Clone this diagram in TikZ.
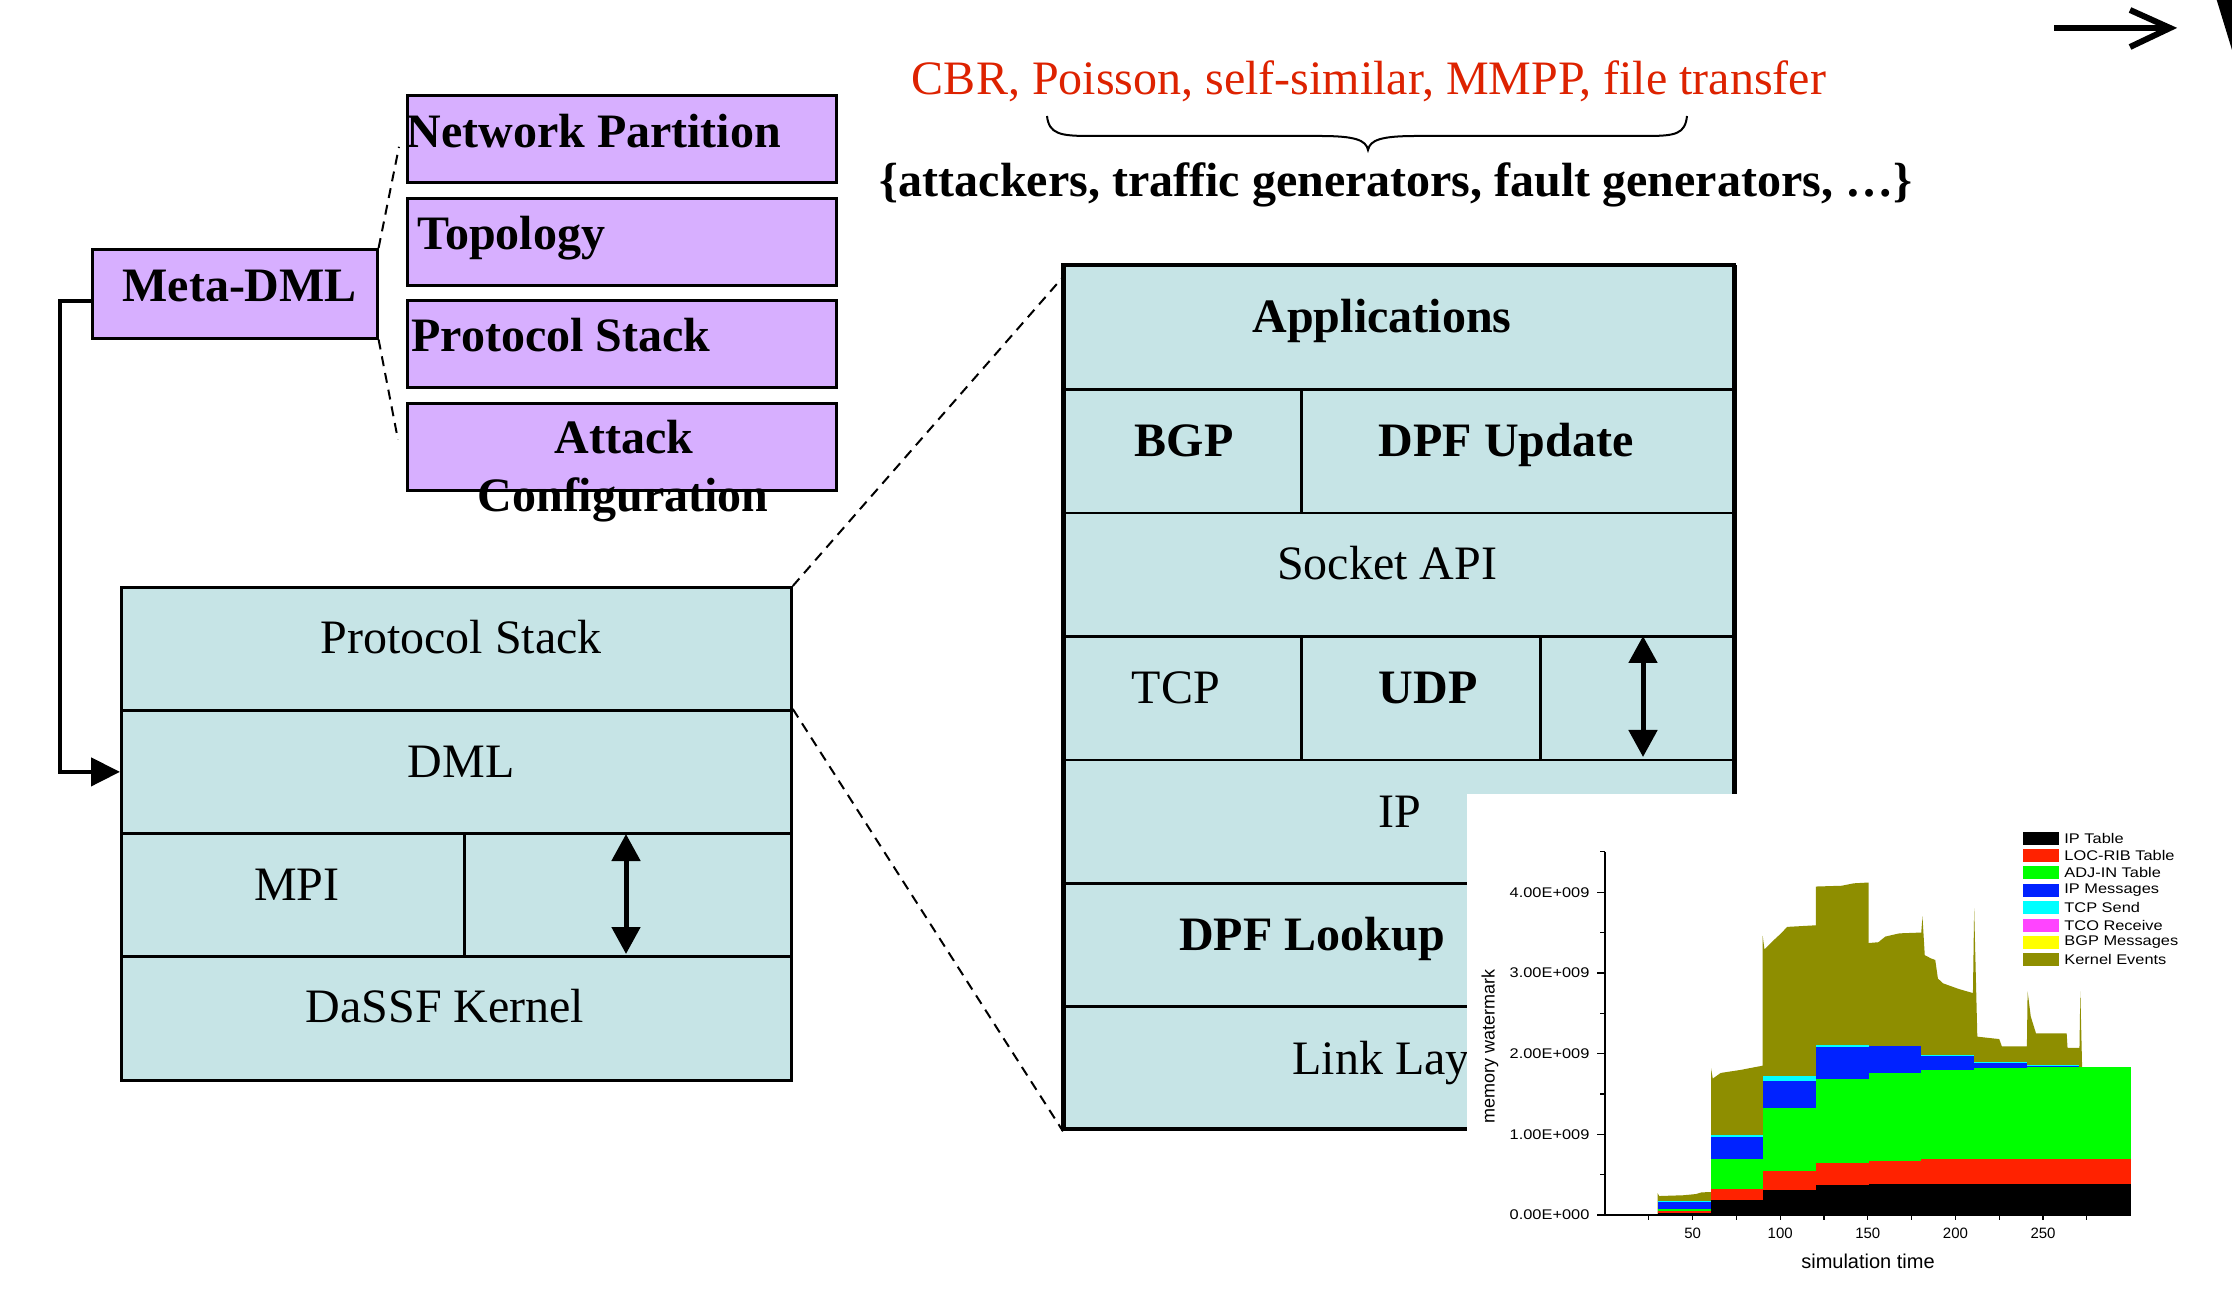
\documentclass[tikz,border=0pt]{standalone}
\usepackage{fontspec}
\setmainfont{Liberation Serif}
\newfontfamily\chartfont{Liberation Sans}
\newfontfamily\chartfontw[FakeStretch=1.17]{Liberation Sans}
\usetikzlibrary{calc,arrows.meta}
\definecolor{lav}{RGB}{215,175,255}
\definecolor{pale}{RGB}{198,228,230}
\definecolor{redtxt}{RGB}{221,34,0}
\definecolor{cRed}{RGB}{255,34,0}
\definecolor{cGreen}{RGB}{0,255,0}
\definecolor{cBlue}{RGB}{0,34,255}
\definecolor{cCyan}{RGB}{0,255,255}
\definecolor{cMag}{RGB}{255,68,255}
\definecolor{cYel}{RGB}{255,255,0}
\definecolor{cOlive}{RGB}{142,142,0}
\begin{document}
\begin{tikzpicture}[x=0.5pt,y=-0.5pt,
  txt/.style={font=\fontsize{24}{28.8}\selectfont, inner sep=0pt, anchor=base},
  txtb/.style={txt, font=\fontsize{24}{28.8}\selectfont\bfseries},
  pbox/.style={draw, line width=1.3pt, fill=lav, anchor=north west, inner sep=0pt, minimum width=214.5pt, minimum height=43.5pt},
  lcell/.style={draw, line width=1.4pt, fill=pale, anchor=north west, inner sep=0pt, minimum height=61.5pt},
  rcell/.style={draw, line width=1.25pt, fill=pale, anchor=north west, inner sep=0pt, minimum height=61.7pt},
  zoomline/.style={dash pattern=on 5pt off 3.5pt, line width=1pt},
  dblarrow/.style={line width=2.5pt, {Triangle[length=13.5pt,width=14pt]}-{Triangle[length=13.5pt,width=14pt]}},
  feed/.style={line width=2.25pt, -{Triangle[length=14.5pt,width=14pt]}},
  chartlbl/.style={font=\chartfont\fontsize{7}{8.4}\selectfont, inner sep=0pt},
  chartlblw/.style={font=\chartfontw\fontsize{7}{8.4}\selectfont, inner sep=0pt},
]
\fill[white] (0,0) rectangle (2232,1293);
\useasboundingbox (0,0) rectangle (2232,1293);

% ---------- top texts ----------
\node[txt, text=redtxt] (gens) at (1369,95) {CBR, Poisson, self-similar, MMPP, file transfer};
\draw[line width=1pt] (1047,116) .. controls (1049,134) and (1060,136) .. (1090,136) -- (1320,136) .. controls (1355,136) and (1366,140) .. (1368,150) .. controls (1370,140) and (1381,136) .. (1416,136) -- (1646,136) .. controls (1676,136) and (1685,134) .. (1687,116);
\node[txtb] (gset) at (1396,197) {\{attackers, traffic generators, fault generators, …\}};

% ---------- top right arrow ----------
\coordinate (ta) at (2054,28);
\coordinate (tb) at (2170,28);
\draw[line width=3pt] (ta) -- (tb);
\draw[line width=3pt] (2130,10) -- (tb) -- (2130,47);
\fill (2216.7,0) -- (2232,0) -- (2232,50) -- cycle;

% ---------- purple boxes ----------
\node[pbox] (np) at (406,94) {};
\node[pbox] (topo) at (406,197) {};
\node[pbox] (pstk) at (406,299) {};
\node[pbox] (atk) at (406,402) {};
\node[pbox, minimum width=142.5pt, minimum height=44.5pt] (meta) at (91,248) {};
\node[txtb, anchor=base west] (npt) at (406,148) {Network Partition};
\node[txtb, anchor=base west] (topot) at (417,250) {Topology};
\node[txtb, anchor=base west] (pstkt) at (411,352) {Protocol Stack};
\node[txtb] (atkt) at (624,454) {Attack};
\node[txtb] (conft) at (623,512) {Configuration};
\node[txtb, anchor=base west] (metat) at (122,302) {Meta-DML};
\draw[zoomline] (meta.north east) -- ($(np.west)+(-7,8)$);
\draw[zoomline] (meta.south east) -- ($(atk.west)+(-8,-7)$);

% ---------- lower-left stack ----------
\node[lcell, minimum width=335pt] (lps) at (120,586) {};
\node[lcell, minimum width=335pt] (ldml) at (120,709) {};
\node[lcell, minimum width=171.5pt] (lmpi) at (120,832) {};
\node[lcell, minimum width=163.5pt] (lgap) at (463,832) {};
\node[lcell, minimum width=335pt, minimum height=62pt] (lker) at (120,955) {};
\node[txt] (lpst) at (461,654) {Protocol Stack};
\node[txt] (ldmlt) at (461,777) {DML};
\node[txt] (lmpit) at (297,900) {MPI};
\node[txt] (lkert) at (445,1022) {DaSSF Kernel};
\coordinate (la1) at (626,834);
\coordinate (la2) at (626,954);
\draw[dblarrow] (la1) -- (la2);
\draw[feed] ($(meta.west)+(0,7)$) -- ++(-31,0) |- (ldml.west);

% ---------- right stack ----------
\node[rcell, minimum width=335.5pt] (app) at (1063,265) {};
\node[rcell, minimum width=118.5pt] (bgp) at (1063,388.4) {};
\node[rcell, minimum width=217pt] (dpfu) at (1300,388.4) {};
\node[rcell, minimum width=335.5pt] (sock) at (1063,511.8) {};
\node[rcell, minimum width=118.5pt] (tcp) at (1063,635.2) {};
\node[rcell, minimum width=119.5pt] (udp) at (1300,635.2) {};
\node[rcell, minimum width=97.5pt] (rgap) at (1539,635.2) {};
\node[rcell, minimum width=335.5pt] (ip) at (1063,758.6) {};
\node[rcell, minimum width=335.5pt] (dpfl) at (1063,882) {};
\node[rcell, minimum width=335.5pt] (link) at (1063,1005.4) {};
\draw[line width=2pt] (1063,265) rectangle (1734,1128.8);
\node[txtb] (appt) at (1382,333) {Applications};
\node[txtb] (bgpt) at (1184,456.5) {BGP};
\node[txtb] (dpfut) at (1506,456.5) {DPF Update};
\node[txt] (sockt) at (1387,580) {Socket API};
\node[txt] (tcpt) at (1176,703.5) {TCP};
\node[txtb] (udpt) at (1428,703.5) {UDP};
\node[txt] (ipt) at (1400,827) {IP};
\node[txtb] (dpflt) at (1312,950) {DPF Lookup};
\node[txt, anchor=base west] (linkt) at (1292,1074) {Link Layer};
\coordinate (ra1) at (1643,636);
\coordinate (ra2) at (1643,757);
\draw[dblarrow] (ra1) -- (ra2);

\draw[zoomline] (lps.north east) -- ($(app.north west)+(0,12)$);
\draw[zoomline] (ldml.north east) -- (link.south west);

% ---------- chart ----------
\fill[white] (1467,794) rectangle (2232,1293);
\begin{scope}[shift={(1605,1215)}, x=0.876pt, y=40.35pt]
\fill[cOlive] (30,0) -- (30,0.27) -- (31,0.235) -- (45,0.245) -- (52,0.26) -- (55,0.28) -- (60.5,0.285) -- (60.5,1.82) -- (61.5,1.69) -- (66,1.76) -- (78,1.80) -- (85,1.83) -- (90,1.85) -- (90,3.46) -- (91,3.29) -- (96,3.40) -- (100,3.48) -- (104,3.57) -- (120.3,3.59) -- (120.3,4.07) -- (135,4.08) -- (142,4.11) -- (150.4,4.12) -- (150.4,3.37) -- (156,3.38) -- (160,3.45) -- (168,3.49) -- (180.5,3.50) -- (181.2,3.70) -- (182.5,3.22) -- (186,3.18) -- (188.5,3.16) -- (190,2.93) -- (193,2.87) -- (202,2.80) -- (210,2.75) -- (210.7,3.80) -- (212.5,2.21) -- (225,2.18) -- (226.5,2.09) -- (240.8,2.09) -- (241.2,2.77) -- (243,2.46) -- (246,2.25) -- (263.5,2.25) -- (264,2.07) -- (270.8,2.07) -- (271.3,2.77) -- (272.3,1.84) -- (272.3,0) -- cycle;
\foreach \ta/\tb/\cy/\bu/\gr/\re/\bk in {30/60.5/0.175/0.165/0.07/0.05/0.02, 60.5/90/0.99/0.97/0.70/0.32/0.19, 90/120.3/1.72/1.66/1.33/0.55/0.31, 120.3/150.4/2.11/2.08/1.69/0.65/0.37, 150.4/180.5/2.10/2.09/1.76/0.67/0.38, 180.5/210.7/1.98/1.97/1.80/0.69/0.39, 210.7/240.8/1.89/1.88/1.82/0.69/0.39, 240.8/270.8/1.86/1.85/1.83/0.69/0.39, 270.8/300/1.83/1.83/1.83/0.69/0.39}{
  \fill[cCyan] (\ta,0) rectangle (\tb,\cy);
  \fill[cBlue] (\ta,0) rectangle (\tb,\bu);
  \fill[cGreen] (\ta,0) rectangle (\tb,\gr);
  \fill[cRed] (\ta,0) rectangle (\tb,\re);
  \fill[black] (\ta,0) rectangle (\tb,\bk);
}
\fill[cBlue] (0,0) rectangle (30,0.012);
\draw[line width=0.6pt] (0,4.5) -- (0,0) -- (300,0);
\foreach \v/\l in {0/0.00E+000,1/1.00E+009,2/2.00E+009,3/3.00E+009,4/4.00E+009}
  \draw[line width=0.6pt] (0,\v) -- ++(-4pt,0) node[chartlblw, anchor=east, xshift=-3.5pt] {\l};
\foreach \v in {0.5,1.5,2.5,3.5,4.5}
  \draw[line width=0.6pt] (0,\v) -- ++(-2.5pt,0);
\foreach \t in {25,50,...,275}
  \draw[line width=0.6pt] (\t,0) -- ++(0,-2.5pt);
\foreach \t in {50,100,150,200,250}
  \node[chartlbl, font=\chartfont\fontsize{7.5}{9}\selectfont] at ([yshift=-9pt]\t,0) {\t};
\end{scope}
\node[chartlbl, font=\chartfont\fontsize{9}{11}\selectfont, rotate=90] (ylab) at (1490,1046) {memory watermark};
\node[chartlbl, font=\chartfont\fontsize{10}{12}\selectfont] (xlab) at (1868,1261) {simulation time};
\foreach \col/\lab [count=\i] in {black/IP Table, cRed/LOC-RIB Table, cGreen/ADJ-IN Table, cBlue/IP Messages, cCyan/TCP Send, cMag/TCO Receive, cYel/BGP Messages, cOlive/Kernel Events}{
  \fill[\col] (2023,{838+17.4*(\i-1)-6.5}) rectangle ++(36,13);
  \node[chartlblw, anchor=west] (leg\i) at (2064,{838+17.4*(\i-1)}) {\lab};
}
\end{tikzpicture}
\end{document}
